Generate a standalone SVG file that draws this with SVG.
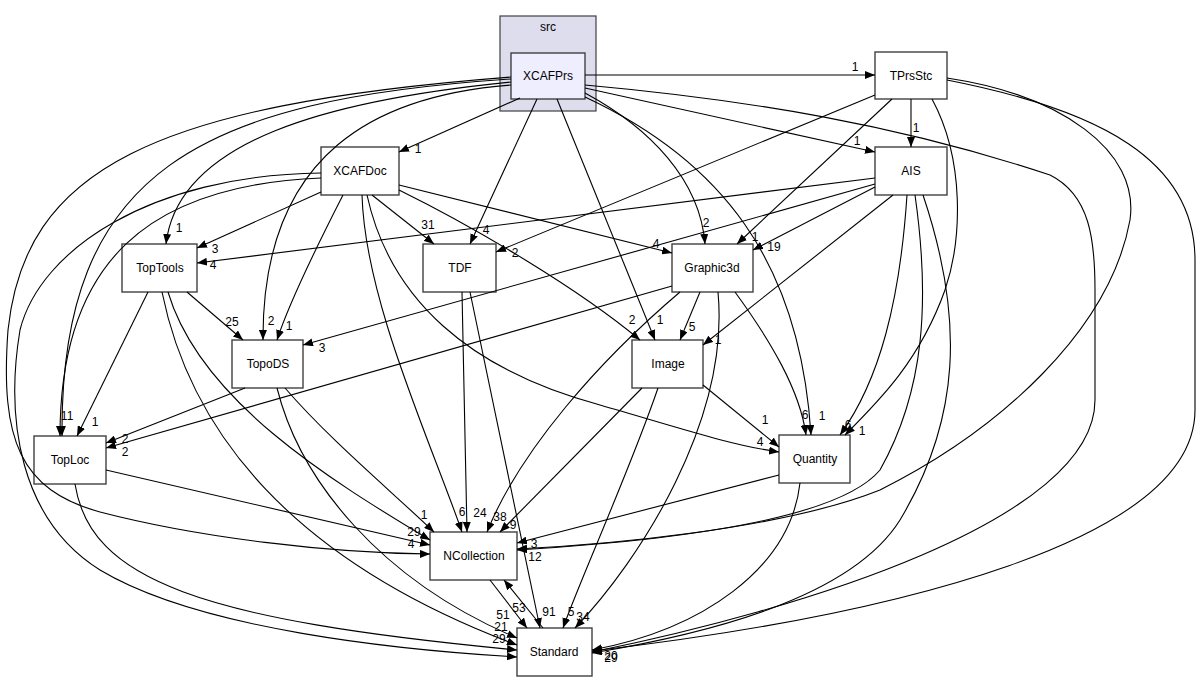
<svg xmlns="http://www.w3.org/2000/svg" width="1202" height="681" viewBox="0 0 1202 681">
<style>
.n rect{fill:#ffffff;stroke:#404040;stroke-width:1.4}
.t{font-family:"Liberation Sans",Arial,sans-serif;font-size:12px;fill:#000;text-anchor:middle}
.e path{fill:none;stroke:#000;stroke-width:1.1;marker-end:url(#ah)}
.l{font-family:"Liberation Sans",Arial,sans-serif;font-size:12px;fill:#000;text-anchor:middle}
</style>
<defs>
<marker id="ah" markerWidth="11" markerHeight="8" refX="10" refY="4" orient="auto" markerUnits="userSpaceOnUse"><path d="M0,0 L10,4 L0,8 z" fill="#000"/></marker>
</defs>
<rect width="1202" height="681" fill="#ffffff"/>
<g id="cluster_src">
<rect x="500" y="16" width="96" height="95" fill="#ddddee" stroke="#404040" stroke-width="1.2"/>
<text class="t" x="548" y="31">src</text>
</g>
<g id="node_XCAFPrs" class="n"><rect x="511" y="53" width="74" height="46" style="fill:#eeeeff"/><text class="t" x="548" y="80">XCAFPrs</text></g>
<g id="node_TPrsStc" class="n"><rect x="875" y="52" width="72" height="47"/><text class="t" x="911" y="80">TPrsStc</text></g>
<g id="node_AIS" class="n"><rect x="875" y="147" width="72" height="48"/><text class="t" x="911" y="175">AIS</text></g>
<g id="node_XCAFDoc" class="n"><rect x="321" y="147" width="78" height="48"/><text class="t" x="360" y="175">XCAFDoc</text></g>
<g id="node_TopTools" class="n"><rect x="122" y="244" width="75" height="48"/><text class="t" x="160" y="272">TopTools</text></g>
<g id="node_TDF" class="n"><rect x="423" y="244" width="73" height="48"/><text class="t" x="460" y="272">TDF</text></g>
<g id="node_Graphic3d" class="n"><rect x="672" y="244" width="81" height="48"/><text class="t" x="712" y="272">Graphic3d</text></g>
<g id="node_TopoDS" class="n"><rect x="232" y="340" width="71" height="48"/><text class="t" x="268" y="368">TopoDS</text></g>
<g id="node_Image" class="n"><rect x="632" y="340" width="71" height="48"/><text class="t" x="668" y="368">Image</text></g>
<g id="node_TopLoc" class="n"><rect x="34" y="436" width="72" height="48"/><text class="t" x="70" y="464">TopLoc</text></g>
<g id="node_Quantity" class="n"><rect x="779" y="435" width="71" height="48"/><text class="t" x="815" y="463">Quantity</text></g>
<g id="node_NCollection" class="n"><rect x="430" y="532" width="87" height="48"/><text class="t" x="474" y="560">NCollection</text></g>
<g id="node_Standard" class="n"><rect x="517" y="628" width="75" height="48"/><text class="t" x="554" y="656">Standard</text></g>
<g id="edges" class="e">
<path d="M585,75 L875,75"/>
<path d="M520,98 L399,152"/>
<path d="M585,88 L875,152"/>
<path d="M511,82 C330,100 178,140 166,244"/>
<path d="M537,99 L470,244"/>
<path d="M585,93 C650,128 700,180 705,244"/>
<path d="M557,99 L655,340"/>
<path d="M585,97 C720,160 800,260 811,435"/>
<path d="M511,85 C380,95 262,150 263,340"/>
<path d="M511,79 C200,100 60,170 62,436"/>
<path d="M511,77 C150,105 25,170 8,330 C0,440 20,490 100,512 C200,538 330,553 430,554"/>
<path d="M585,85 C750,100 900,125 1050,175 C1090,195 1095,240 1095,290 L1095,400 C1095,520 800,610 592,652"/>
<path d="M911,99 L911,147"/>
<path d="M875,95 L496,252"/>
<path d="M892,99 L737,244"/>
<path d="M932,99 C965,160 962,240 945,290 C920,360 880,400 845,435"/>
<path d="M947,78 C1060,95 1140,150 1130,220 C1110,330 1000,430 880,490 C780,530 600,545 517,549"/>
<path d="M947,80 C1100,110 1195,160 1195,260 L1195,410 C1195,540 900,615 592,651"/>
<path d="M875,178 L197,263"/>
<path d="M875,184 L303,345"/>
<path d="M875,187 L753,250"/>
<path d="M893,195 L703,345"/>
<path d="M907,195 C900,300 880,380 840,435"/>
<path d="M915,195 C930,300 925,390 880,470 C830,530 600,545 517,550"/>
<path d="M923,195 C965,320 960,420 900,520 C850,600 700,635 592,653"/>
<path d="M321,192 L197,248"/>
<path d="M372,195 L434,244"/>
<path d="M343,195 C320,240 290,300 277,340"/>
<path d="M399,185 L672,253"/>
<path d="M399,190 C480,230 580,290 640,340"/>
<path d="M367,195 C390,300 470,370 600,405 C680,428 730,445 779,452"/>
<path d="M362,195 C365,300 430,440 462,532"/>
<path d="M321,178 C150,185 60,260 60,436"/>
<path d="M321,173 C150,175 40,250 20,330 C5,420 20,520 100,570 C200,630 400,650 517,657"/>
<path d="M187,292 L243,340"/>
<path d="M148,292 L77,436"/>
<path d="M168,292 C200,400 330,480 430,540"/>
<path d="M162,292 C190,430 290,560 517,645"/>
<path d="M245,388 L106,443"/>
<path d="M285,388 C330,440 390,490 434,532"/>
<path d="M277,388 C300,480 380,580 517,638"/>
<path d="M106,470 L430,545"/>
<path d="M75,484 C90,580 200,620 517,650"/>
<path d="M462,292 L467,532"/>
<path d="M470,292 L540,628"/>
<path d="M700,292 L680,340"/>
<path d="M735,292 C770,340 800,390 806,435"/>
<path d="M680,292 C600,360 520,450 487,532"/>
<path d="M718,292 C730,420 640,560 575,628"/>
<path d="M672,286 L106,448"/>
<path d="M703,385 L779,447"/>
<path d="M642,388 L500,532"/>
<path d="M658,388 C630,470 580,580 563,628"/>
<path d="M779,475 L517,543"/>
<path d="M800,483 C790,570 700,630 592,650"/>
<path d="M490,580 L527,628"/>
<path d="M543,628 L504,580"/>
</g>
<g id="labels">
<text class="l" x="855" y="71">1</text>
<text class="l" x="418" y="153">1</text>
<text class="l" x="857" y="145">1</text>
<text class="l" x="179" y="232">1</text>
<text class="l" x="486" y="234">4</text>
<text class="l" x="706" y="227">2</text>
<text class="l" x="660" y="324">1</text>
<text class="l" x="822" y="420">1</text>
<text class="l" x="271" y="325">2</text>
<text class="l" x="64" y="420">1</text>
<text class="l" x="70" y="420">1</text>
<text class="l" x="411" y="548">4</text>
<text class="l" x="916" y="132">1</text>
<text class="l" x="515" y="257">2</text>
<text class="l" x="755" y="241">1</text>
<text class="l" x="862" y="435">1</text>
<text class="l" x="213" y="269">4</text>
<text class="l" x="322" y="352">3</text>
<text class="l" x="774" y="251">19</text>
<text class="l" x="718" y="344">1</text>
<text class="l" x="848" y="429">6</text>
<text class="l" x="215" y="253">3</text>
<text class="l" x="428" y="229">31</text>
<text class="l" x="289" y="330">1</text>
<text class="l" x="656" y="248">4</text>
<text class="l" x="632" y="324">2</text>
<text class="l" x="760" y="446">4</text>
<text class="l" x="462" y="516">6</text>
<text class="l" x="232" y="326">25</text>
<text class="l" x="95" y="426">1</text>
<text class="l" x="414" y="536">29</text>
<text class="l" x="125" y="443">2</text>
<text class="l" x="125" y="456">2</text>
<text class="l" x="424" y="519">1</text>
<text class="l" x="503" y="619">51</text>
<text class="l" x="480" y="517">24</text>
<text class="l" x="549" y="616">91</text>
<text class="l" x="692" y="331">5</text>
<text class="l" x="805" y="419">6</text>
<text class="l" x="500" y="521">38</text>
<text class="l" x="583" y="621">34</text>
<text class="l" x="765" y="424">1</text>
<text class="l" x="513" y="529">9</text>
<text class="l" x="571" y="616">5</text>
<text class="l" x="534" y="548">3</text>
<text class="l" x="535" y="561">12</text>
<text class="l" x="519" y="612">53</text>
<text class="l" x="501" y="631">21</text>
<text class="l" x="499" y="643">29</text>
<text class="l" x="611" y="660">20</text>
<text class="l" x="611" y="662">29</text>
</g>
</svg>
